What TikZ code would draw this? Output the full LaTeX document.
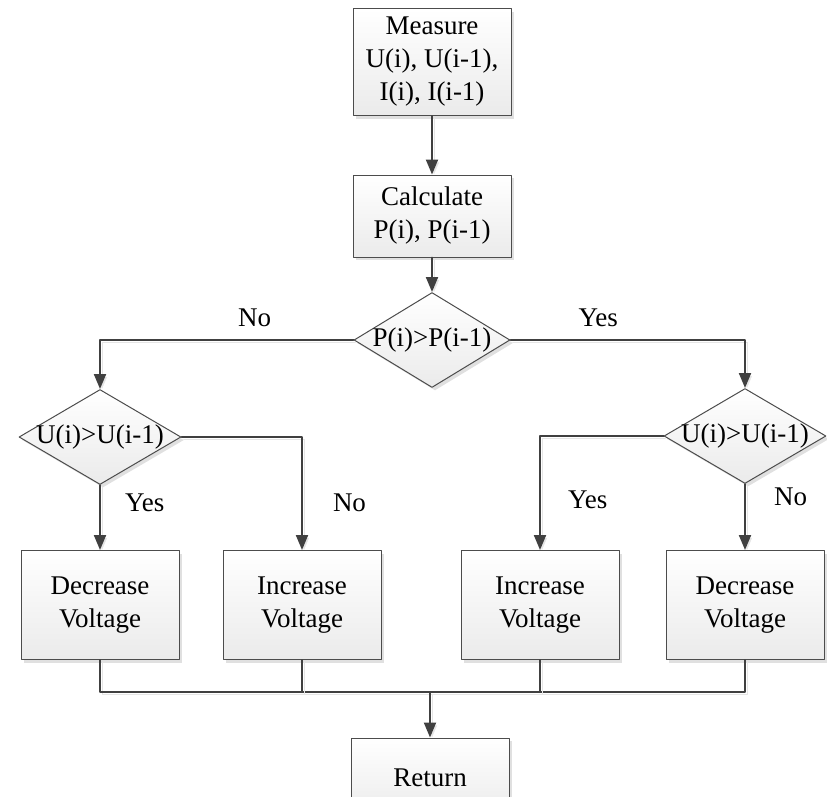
\documentclass[tikz,border=0pt]{standalone}
\usepackage{fontspec}
\setmainfont{Liberation Serif}
\usetikzlibrary{shapes.geometric}
\usetikzlibrary{arrows.meta}
\usetikzlibrary{shadows}

\begin{document}
\begin{tikzpicture}[x=1pt, y=-1pt, line cap = round, line join = round, >={Triangle[width=12pt,length=15pt]}]
\tikzstyle{box}=[rectangle, draw=black!70, line width=1pt, top color=white, bottom color=black!8, drop shadow={shadow xshift=3pt, shadow yshift=-3pt, fill=black!12, opacity=1}, minimum width=158pt, align=center, font=\fontsize{27}{33}\selectfont]
\tikzstyle{test}=[diamond, draw=black!70, line width=1pt, top color=white, bottom color=black!8, drop shadow={shadow xshift=3pt, shadow yshift=-3pt, fill=black!12, opacity=1}, minimum width=162pt, minimum height=95pt, inner sep=0pt, font=\fontsize{27}{33}\selectfont]
\tikzstyle{flow}=[line width=2pt, draw=black!75, ->, preaction={draw=black!10, transform canvas={xshift=2pt, yshift=-2pt}}]
\tikzstyle{lbl}=[inner sep=0pt, font=\fontsize{27}{33}\selectfont]

\useasboundingbox (0,0) rectangle (827,796);

\node[box, minimum height=107pt] (measure) at (432,62) {Measure\\U(i), U(i-1),\\I(i), I(i-1)};
\node[box, minimum height=82pt] (calc) at (432,216) {Calculate\\P(i), P(i-1)};
\node[test, minimum width=156pt] (pcmp) at (432,340) {\makebox[0pt]{P(i)>P(i-1)}};
\node[test] (ucmpL) at (100,437) {\makebox[0pt]{U(i)>U(i-1)}};
\node[test] (ucmpR) at (745,436) {\makebox[0pt]{U(i)>U(i-1)}};
\node[box, minimum height=109pt] (decL) at (100,605) {Decrease\\Voltage};
\node[box, minimum height=109pt] (incL) at (302,605) {Increase\\Voltage};
\node[box, minimum height=109pt] (incR) at (540,605) {Increase\\Voltage};
\node[box, minimum height=109pt] (decR) at (745,605) {Decrease\\Voltage};
\node[box, minimum height=80pt] (ret) at (430,778) {Return};
\coordinate (bus) at (430,692);

\draw[flow] (measure) -- (calc);
\draw[flow] (calc) -- (pcmp);
\draw[flow] (pcmp.west) -| (ucmpL.north) node[lbl, pos=0.195, above=12pt] {No};
\draw[flow] (pcmp.east) -| (ucmpR.north) node[lbl, pos=0.187, above=12pt] {Yes};
\draw[flow] (ucmpL) -- (decL) node[lbl, pos=0.28, right=24pt] {Yes};
\draw[flow] (ucmpL.east) -| (incL.north) node[lbl, pos=0.79, right=30pt] {No};
\draw[flow] (ucmpR.west) -| (incR.north) node[lbl, pos=0.78, right=27pt] {Yes};
\draw[flow] (ucmpR) -- (decR) node[lbl, pos=0.2, right=28pt] {No};

\draw[flow, -] (decL.south) -- (decL.south |- bus) -- (decR.south |- bus) -- (decR.south);
\draw[flow, -] (incL.south) -- (incL.south |- bus);
\draw[flow, -] (incR.south) -- (incR.south |- bus);
\draw[flow] (bus) -- (ret);
\end{tikzpicture}
\end{document}
